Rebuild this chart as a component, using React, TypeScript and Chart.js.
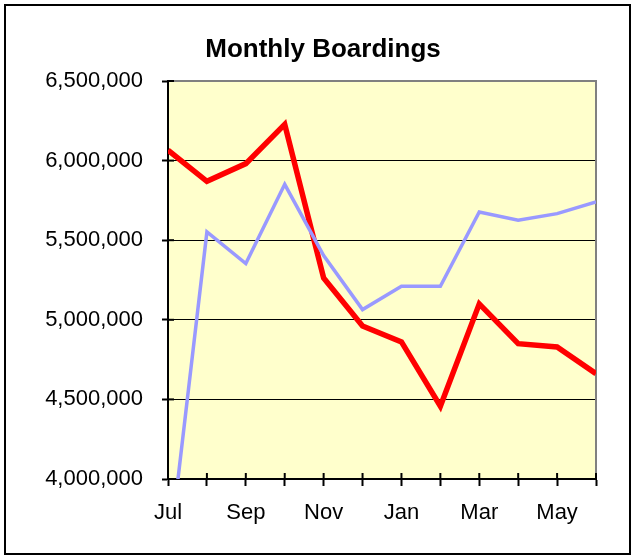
import React, { useEffect, useRef } from 'react';
import { Chart, registerables } from 'chart.js';

Chart.register(...registerables);

const months = ['Jul', 'Aug', 'Sep', 'Oct', 'Nov', 'Dec', 'Jan', 'Feb', 'Mar', 'Apr', 'May', 'Jun'];
const shownMonthLabels = ['Jul', 'Sep', 'Nov', 'Jan', 'Mar', 'May'];
const redSeries = [6065000, 5870000, 5981000, 6228000, 5263000, 4961000, 4861000, 4457000, 5100000, 4850000, 4829000, 4662000];
const blueSeries = [3464000, 5552000, 5353000, 5851000, 5403000, 5064000, 5210000, 5210000, 5677000, 5625000, 5667000, 5740000];
const yMin = 4000000;
const yMax = 6500000;
const yStep = 500000;
const chartTitle = 'Monthly Boardings';

const FONT = '"Liberation Sans", Arial, Helvetica, sans-serif';

export default function App() {
  const ref = useRef<HTMLCanvasElement>(null);

  useEffect(() => {
    if (!ref.current) return;

    const plotDecor = {
      id: 'plotDecor',
      beforeDraw(chart: any) {
        const { ctx, chartArea: a } = chart;
        ctx.save();
        ctx.fillStyle = '#FFFFCC';
        ctx.fillRect(a.left, a.top, a.right - a.left, a.bottom - a.top);
        ctx.restore();
      },
      beforeDatasetsDraw(chart: any) {
        const { ctx, chartArea: a, scales } = chart;
        ctx.save();
        ctx.strokeStyle = '#808080';
        ctx.lineWidth = 2;
        ctx.beginPath();
        ctx.moveTo(a.left, a.top);
        ctx.lineTo(a.right, a.top);
        ctx.lineTo(a.right, a.bottom);
        ctx.stroke();
        ctx.strokeStyle = '#000000';
        ctx.lineWidth = 2;
        scales.y.ticks.forEach((t: any) => {
          const y = scales.y.getPixelForValue(t.value);
          ctx.beginPath();
          ctx.moveTo(a.left, y);
          ctx.lineTo(a.left + 6, y);
          ctx.stroke();
        });
        scales.x.ticks.forEach((_t: any, i: number) => {
          const x = scales.x.getPixelForTick(i);
          ctx.beginPath();
          ctx.moveTo(x, a.bottom);
          ctx.lineTo(x, a.bottom - 6);
          ctx.stroke();
        });
        ctx.restore();
      },
      afterDraw(chart: any) {
        const { ctx } = chart;
        ctx.save();
        ctx.font = `bold 26px ${FONT}`;
        ctx.fillStyle = '#000000';
        ctx.textAlign = 'center';
        ctx.textBaseline = 'alphabetic';
        ctx.fillText(chartTitle, 323, 57);
        ctx.restore();
      },
    };

    const chart = new Chart(ref.current, {
      type: 'line',
      data: {
        labels: months,
        datasets: [
          {
            label: 'Series 2',
            data: blueSeries,
            borderColor: '#9999FF',
            backgroundColor: '#9999FF',
            borderWidth: 3.5,
            pointRadius: 0,
            pointHoverRadius: 0,
            tension: 0,
            fill: false,
            clip: 0,
            borderJoinStyle: 'miter',
          },
          {
            label: 'Series 1',
            data: redSeries,
            borderColor: '#FF0000',
            backgroundColor: '#FF0000',
            borderWidth: 5.5,
            pointRadius: 0,
            pointHoverRadius: 0,
            tension: 0,
            fill: false,
            clip: 0,
            borderJoinStyle: 'miter',
          },
        ],
      },
      options: {
        responsive: false,
        animation: false,
        events: [],
        layout: { padding: { left: 0, top: 81, right: 36, bottom: 17 } },
        plugins: {
          legend: { display: false },
          title: { display: false },
          tooltip: { enabled: false },
        },
        scales: {
          x: {
            type: 'category',
            offset: false,
            grid: {
              drawOnChartArea: false,
              drawTicks: true,
              tickLength: 7,
              tickWidth: 2,
              tickColor: '#000000',
            },
            border: { display: true, color: '#000000', width: 2 },
            ticks: {
              autoSkip: false,
              maxRotation: 0,
              minRotation: 0,
              padding: 14,
              color: '#000000',
              font: { family: FONT, size: 22 },
              callback: (_v: any, i: number) => (shownMonthLabels.includes(months[i]) && i % 2 === 0 ? months[i] : ''),
            },
            afterFit: (scale: any) => {
              scale.height = 60;
            },
          },
          y: {
            type: 'linear',
            min: yMin,
            max: yMax,
            grid: {
              color: (c: any) => (c.tick && c.tick.value > yMin && c.tick.value < yMax ? '#000000' : 'rgba(0,0,0,0)'),
              lineWidth: 1,
              drawTicks: true,
              tickLength: 6,
              tickWidth: 2,
              tickColor: '#000000',
            },
            border: { display: true, color: '#000000', width: 2 },
            ticks: {
              stepSize: yStep,
              padding: 19,
              color: '#000000',
              font: { family: FONT, size: 22 },
              callback: (v: any) => Number(v).toLocaleString('en-US'),
            },
            afterFit: (scale: any) => {
              scale.width = 168;
            },
          },
        },
      },
      plugins: [plotDecor],
    });

    return () => chart.destroy();
  }, []);

  return (
    <div style={{ position: 'fixed', left: 0, top: 0, width: 632, height: 556, background: '#FFFFFF' }}>
      <div
        style={{
          position: 'absolute',
          left: 4,
          top: 4,
          width: 627,
          height: 551,
          border: '2px solid #000000',
          boxSizing: 'border-box',
        }}
      />
      <canvas ref={ref} width={632} height={556} style={{ position: 'absolute', left: 0, top: 0 }} />
    </div>
  );
}
